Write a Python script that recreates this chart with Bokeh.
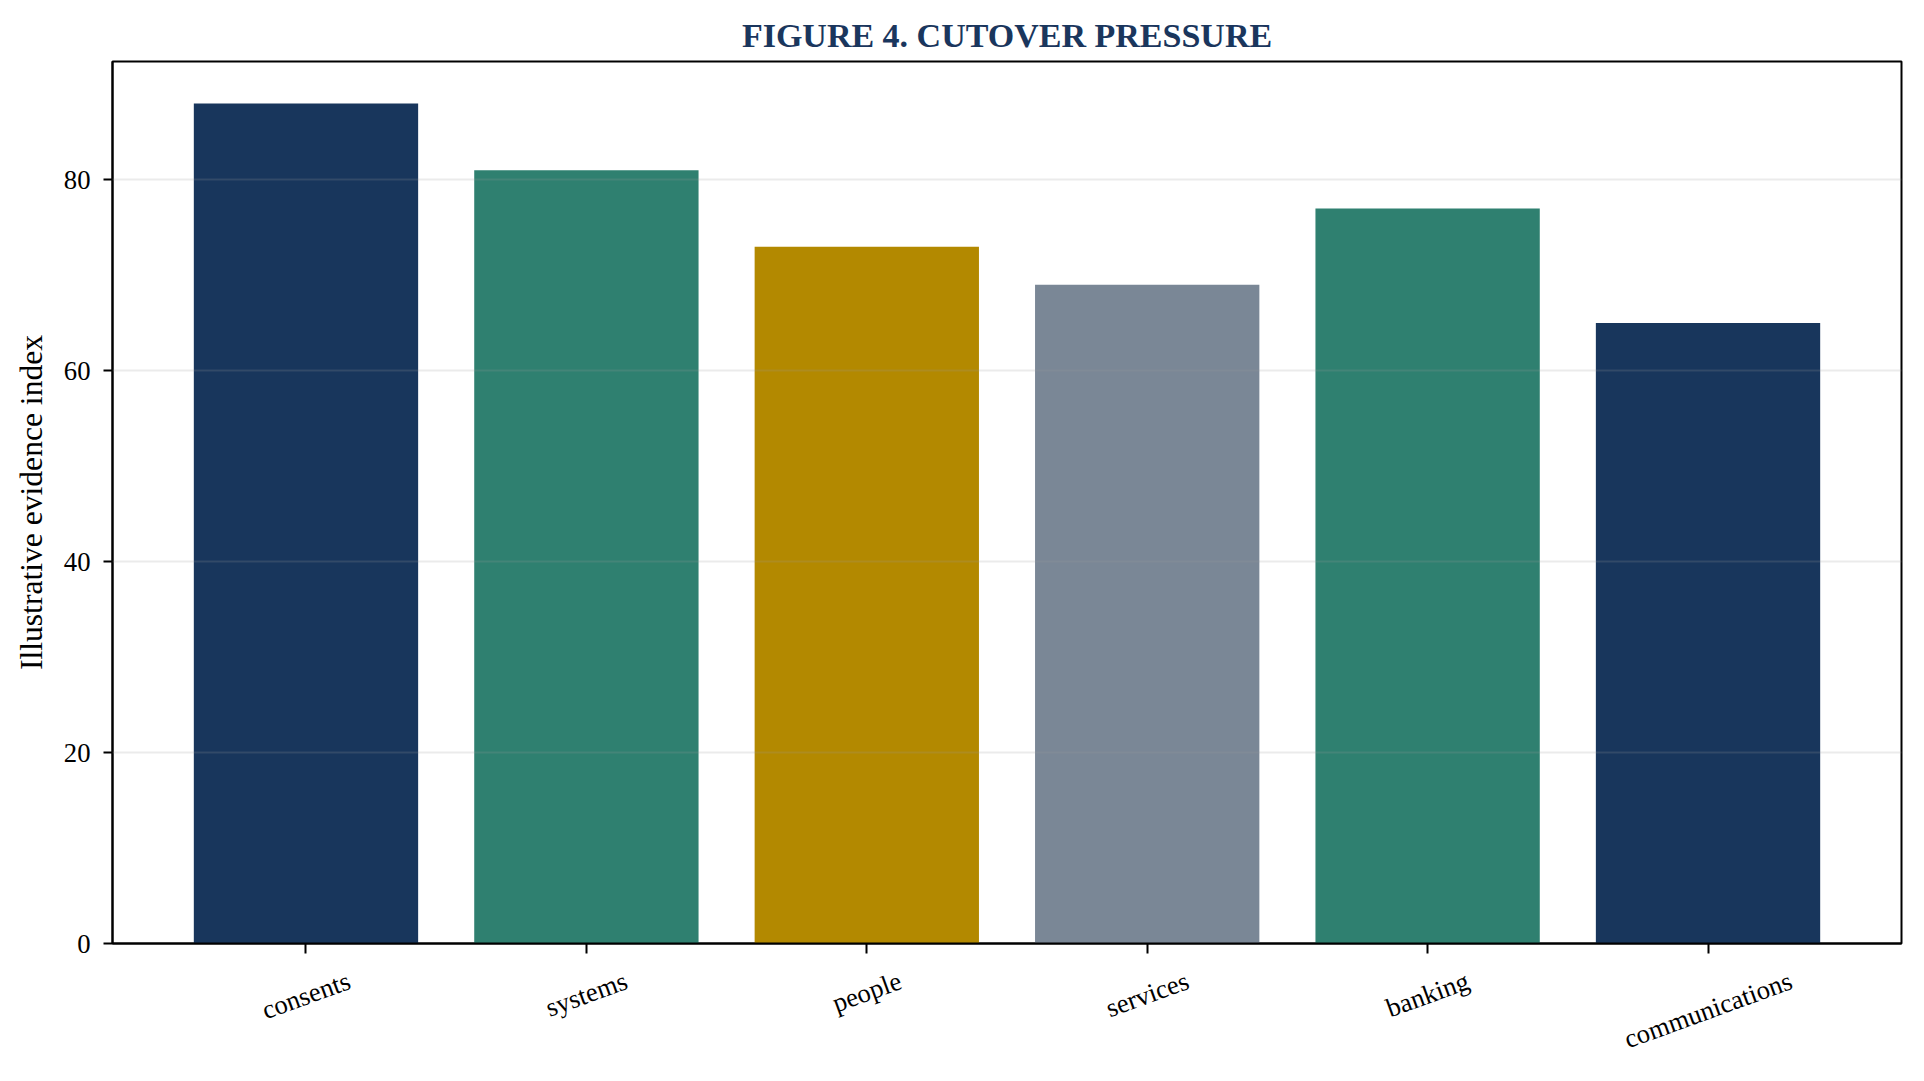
import math
from bokeh.plotting import figure
from bokeh.layouts import column
from bokeh.models import ColumnDataSource, FixedTicker, Range1d
from bokeh.core.properties import value
from bokeh.embed import file_html
from bokeh.resources import INLINE

# ---- data ----
categories = ["consents", "systems", "people", "services", "banking", "communications"]
values = [88, 81, 73, 69, 77, 65]
bar_colors = ["#18365c", "#2f8070", "#b38900", "#7a8796", "#2f8070", "#18365c"]
y_ticks = [0, 20, 40, 60, 80]
title_text = "FIGURE 4. CUTOVER PRESSURE"
y_label = "Illustrative evidence index"

FONT = "Liberation Serif"
TICK_PX = 26.7
NAVY = "#1a365d"

W_TOTAL, H_TOTAL = 1908, 1065
LEFT, RIGHT, TOP, FRAME_H = 112, 7, 61, 882
AX_BOTTOM = 20
H_MAIN = TOP + FRAME_H + AX_BOTTOM
H_LAB = H_TOTAL - H_MAIN

xs = list(range(len(categories)))
src = ColumnDataSource(dict(x=xs, top=values, color=bar_colors))

p = figure(width=W_TOTAL, height=H_MAIN, output_backend="svg", toolbar_location=None,
           x_range=Range1d(-0.69, 5.69), y_range=Range1d(0, 92.4),
           min_border_left=LEFT, min_border_right=RIGHT, min_border_top=TOP,
           min_border_bottom=AX_BOTTOM, background_fill_color="white",
           border_fill_color="white")

p.vbar(x="x", top="top", width=0.8, fill_color="color", line_color=None, source=src)

# title
p.title.text = title_text
p.title.align = "center"
p.title.text_font = FONT
p.title.text_font_style = "bold"
p.title.text_font_size = "34px"
p.title.text_color = NAVY
p.title.standoff = 15

# frame
p.outline_line_color = "black"
p.outline_line_width = 2
p.outline_line_alpha = 1

# grid
p.xgrid.visible = False
p.ygrid.grid_line_color = "#999999"
p.ygrid.grid_line_alpha = 0.2
p.ygrid.grid_line_width = 2
p.ygrid.level = "annotation"

# y axis
p.yaxis.ticker = FixedTicker(ticks=y_ticks, minor_ticks=[])
p.yaxis.major_tick_out = 9
p.yaxis.major_tick_in = 0
p.yaxis.major_tick_line_width = 2
p.yaxis.axis_line_width = 2
p.yaxis.major_label_text_font = FONT
p.yaxis.major_label_text_font_size = f"{TICK_PX}px"
p.yaxis.major_label_text_color = "black"
p.yaxis.major_label_standoff = 13
p.yaxis.axis_label = y_label
p.yaxis.axis_label_text_font = FONT
p.yaxis.axis_label_text_font_style = "normal"
p.yaxis.axis_label_text_font_size = "31.6px"
p.yaxis.axis_label_text_color = "black"
p.yaxis.axis_label_standoff = 12

# x axis: ticks only; rotated centred labels drawn in the strip below
p.xaxis.ticker = FixedTicker(ticks=xs, minor_ticks=[])
p.xaxis.major_tick_out = 10
p.xaxis.major_tick_in = 0
p.xaxis.major_tick_line_width = 2
p.xaxis.axis_line_width = 2
p.xaxis.major_label_overrides = {i: "" for i in xs}
p.xaxis.major_label_text_font_size = "0px"
p.xaxis.major_label_standoff = 0

# label strip (shares the x scale), y in pixels downward from its top
W = dict(a=.444, b=.5, c=.444, d=.5, e=.444, f=.333, g=.5, h=.5, i=.278, j=.278,
         k=.5, l=.278, m=.778, n=.5, o=.5, p=.5, q=.5, r=.333, s=.389, t=.278,
         u=.5, v=.5, w=.722, x=.5, y=.5, z=.444)
ANG = 20
ang = math.radians(ANG)
Hbox = 1.1 * TICK_PX
yc = []
for name in categories:
    L = sum(W.get(ch, 0.5) for ch in name) * TICK_PX
    off = 22.4 + (L * math.sin(ang) + Hbox * math.cos(ang)) / 2
    yc.append(off - AX_BOTTOM)
lab_src = ColumnDataSource(dict(x=xs, y=yc, name=categories))

p2 = figure(width=W_TOTAL, height=H_LAB, output_backend="svg", toolbar_location=None,
            x_range=p.x_range, y_range=Range1d(H_LAB, 0),
            x_axis_type=None, y_axis_type=None, min_border=0,
            min_border_left=LEFT, min_border_right=RIGHT, min_border_top=0,
            min_border_bottom=0, background_fill_color="white",
            border_fill_color="white")
p2.outline_line_color = None
p2.grid.visible = False
p2.text(x="x", y="y", text="name", angle=ANG, angle_units="deg", text_align="center",
        text_baseline="middle", text_font=value(FONT), text_font_size=value(f"{TICK_PX}px"),
        text_color="black", source=lab_src)

layout = column(p, p2, spacing=0)
open("out.html", "w").write(file_html(layout, INLINE))
